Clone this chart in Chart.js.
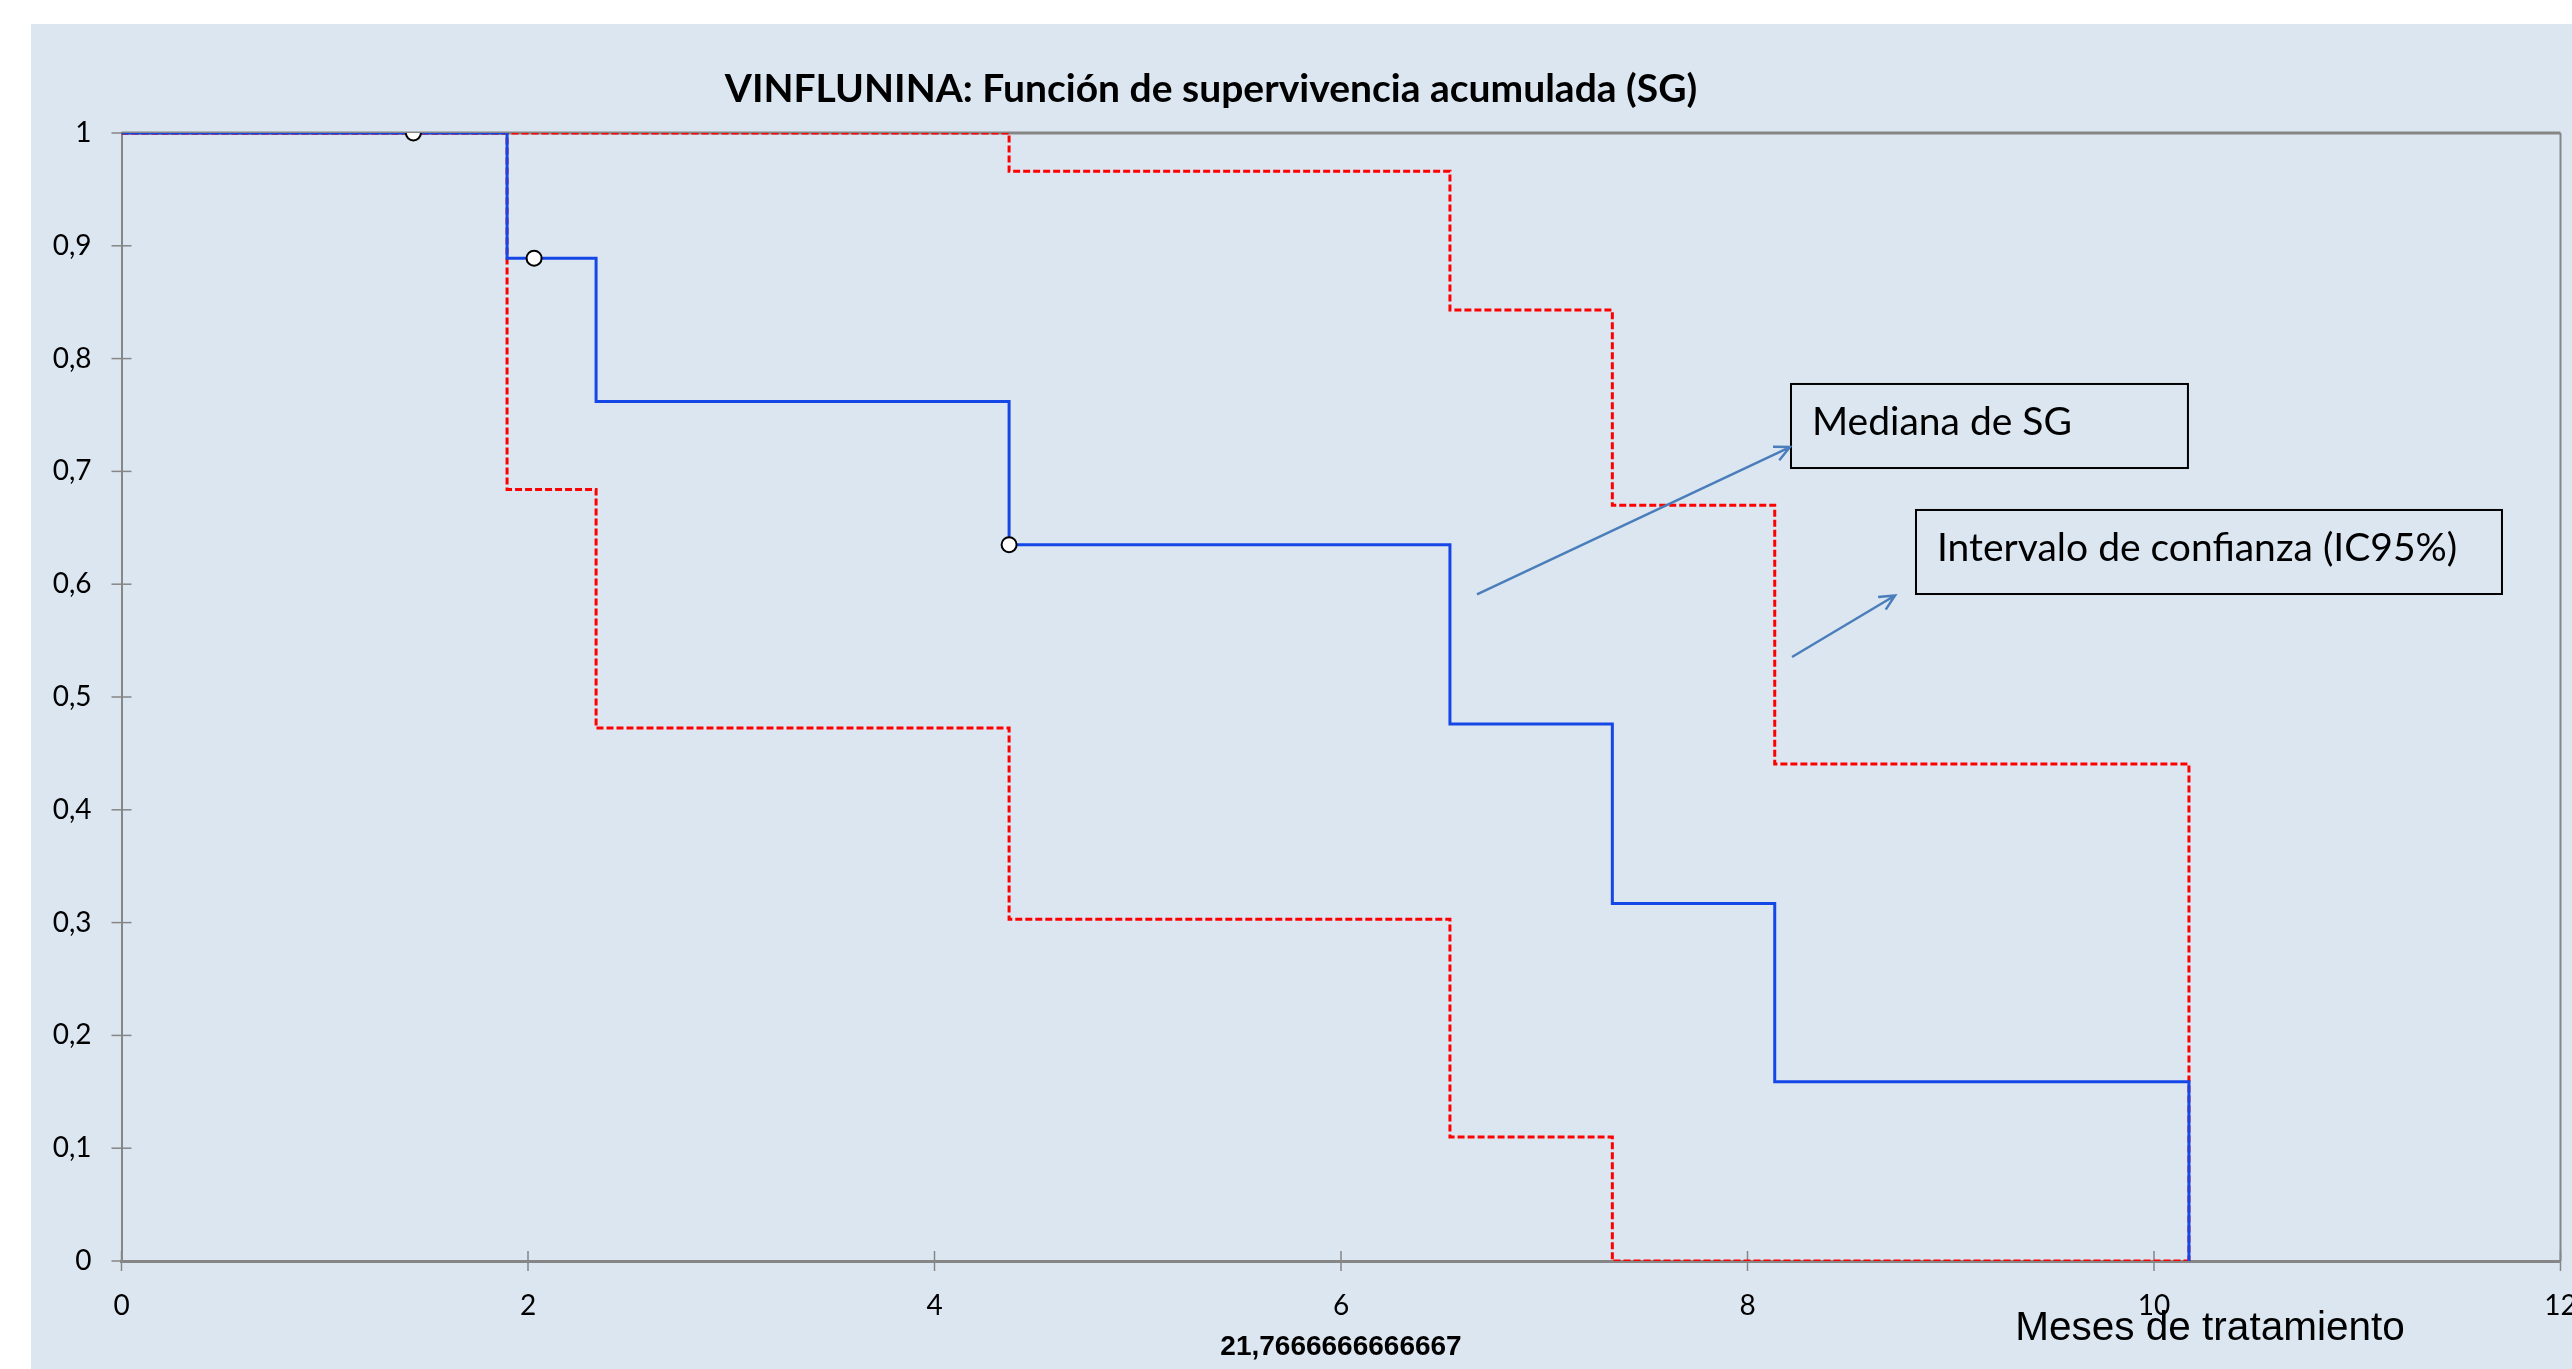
<!DOCTYPE html>
<html><head><meta charset="utf-8">
<script src="https://cdn.jsdelivr.net/npm/chart.js@4.4.0/dist/chart.umd.min.js"></script>
<style>
html,body{margin:0;padding:0;background:#fff;width:2572px;height:1369px;overflow:hidden}
#wrap{position:absolute;left:31px;top:24px;width:2541px;height:1345px;background:#DCE6F1}
canvas{display:block}
</style></head><body>
<div id="wrap"><canvas id="c" width="2541" height="1345"></canvas></div>
<script>
// ---- data (months, cumulative survival) ----
const kmTimes  = [0, 1.897, 2.335, 4.367, 6.536, 7.335, 8.134, 10.172];
const kmSurv   = [1, 0.889, 0.762, 0.635, 0.476, 0.317, 0.159, 0];
const upTimes  = [0, 4.367, 6.536, 7.335, 8.134, 10.172];
const upSurv   = [1, 0.966, 0.843, 0.670, 0.4405, 0];
const loTimes  = [0, 1.897, 2.335, 4.367, 6.536, 7.335, 10.172];
const loSurv   = [1, 0.684, 0.4725, 0.303, 0.110, 0, 0];
const censTimes = [1.436, 2.03, 4.367];
const censSurv  = [1, 0.889, 0.635];
const xTicks = [0, 2, 4, 6, 8, 10, 12];
const yTicks = [0, 0.1, 0.2, 0.3, 0.4, 0.5, 0.6, 0.7, 0.8, 0.9, 1];

const titleText = 'VINFLUNINA: Función de supervivencia acumulada (SG)';
const xAxisText = 'Meses de tratamiento';
const medianText = '21,7666666666667';
const note1 = 'Mediana de SG';
const note2 = 'Intervalo de confianza (IC95%)';

const pts = (xs, ys) => xs.map((v, i) => ({x: v, y: ys[i]}));

// annotation layout in data units
const boxes = [
  {text: note1, x0: 8.214, x1: 10.167, y0: 0.7775, y1: 0.703},
  {text: note2, x0: 8.829, x1: 11.712, y0: 0.6658, y1: 0.5913}
];
const arrows = [
  {fx: 6.669, fy: 0.591, tx: 8.209, ty: 0.7216},
  {fx: 8.219, fy: 0.5355, tx: 8.726, ty: 0.590}
];

const GRAY = '#868686';
const TICKFONT = 'Lato, "Open Sans", sans-serif';

const decor = {
  id: 'decor',
  beforeDatasetsDraw(chart) {
    const {ctx, chartArea: a, scales: {x, y}} = chart;
    ctx.save();
    ctx.strokeStyle = GRAY;
    ctx.lineWidth = 3;
    ctx.beginPath();
    ctx.moveTo(a.left, y.getPixelForValue(1)); ctx.lineTo(a.right, y.getPixelForValue(1));
    ctx.stroke();
    ctx.lineWidth = 2;
    ctx.beginPath();
    ctx.moveTo(x.getPixelForValue(12), a.top); ctx.lineTo(x.getPixelForValue(12), a.bottom);
    ctx.stroke();
    ctx.lineWidth = 1.5;
    const yb = y.getPixelForValue(0), xl = x.getPixelForValue(0);
    xTicks.forEach(v => {
      const px = x.getPixelForValue(v);
      ctx.beginPath(); ctx.moveTo(px, yb - 10); ctx.lineTo(px, yb + 10); ctx.stroke();
    });
    yTicks.forEach(v => {
      const py = y.getPixelForValue(v);
      ctx.beginPath(); ctx.moveTo(xl - 10, py); ctx.lineTo(xl + 10, py); ctx.stroke();
    });
    ctx.restore();
  },
  afterDraw(chart) {
    const {ctx, scales: {x, y}} = chart;
    ctx.save();
    // title
    ctx.fillStyle = '#000';
    ctx.font = 'bold 39px Lato, "Open Sans", sans-serif';
    ctx.textAlign = 'center'; ctx.textBaseline = 'middle';
    ctx.fillText(titleText, 1180, 65);
    // boxes
    ctx.textAlign = 'left'; ctx.textBaseline = 'alphabetic';
    ctx.font = '39px Lato, "Open Sans", sans-serif';
    ctx.strokeStyle = '#000'; ctx.lineWidth = 2;
    boxes.forEach(b => {
      const l = x.getPixelForValue(b.x0), r = x.getPixelForValue(b.x1);
      const t = y.getPixelForValue(b.y0), btm = y.getPixelForValue(b.y1);
      ctx.strokeRect(l, t, r - l, btm - t);
      ctx.fillText(b.text, l + 21, t + 51);
    });
    // arrows
    ctx.strokeStyle = '#4A7EBB'; ctx.lineWidth = 2.5;
    arrows.forEach(ar => {
      const fx = x.getPixelForValue(ar.fx), fy = y.getPixelForValue(ar.fy);
      const tx = x.getPixelForValue(ar.tx), ty = y.getPixelForValue(ar.ty);
      const ang = Math.atan2(ty - fy, tx - fx), L = 17, s = 0.45;
      ctx.beginPath(); ctx.moveTo(fx, fy); ctx.lineTo(tx, ty);
      ctx.moveTo(tx - L * Math.cos(ang - s), ty - L * Math.sin(ang - s)); ctx.lineTo(tx, ty);
      ctx.lineTo(tx - L * Math.cos(ang + s), ty - L * Math.sin(ang + s));
      ctx.stroke();
    });
    // axis title & median label
    ctx.fillStyle = '#000';
    ctx.textAlign = 'center'; ctx.textBaseline = 'alphabetic';
    ctx.font = '40.5px "Liberation Sans", Arial, sans-serif';
    ctx.fillText(xAxisText, 2179, 1316);
    ctx.font = 'bold 28px "Liberation Sans", Arial, sans-serif';
    ctx.fillText(medianText, 1310, 1331);
    ctx.restore();
  }
};

new Chart(document.getElementById('c'), {
  type: 'line',
  data: {
    datasets: [
      {data: pts(censTimes, censSurv), showLine: false, pointRadius: 7.5,
       pointBackgroundColor: '#fff', pointBorderColor: '#000', pointBorderWidth: 2},
      {data: pts(kmTimes, kmSurv), stepped: 'before', borderColor: '#1447E6', borderWidth: 3,
       pointRadius: 0, fill: false},
      {data: pts(upTimes, upSurv), stepped: 'before', borderColor: '#FF0000', borderWidth: 3,
       borderDash: [7, 3], pointRadius: 0, fill: false},
      {data: pts(loTimes, loSurv), stepped: 'before', borderColor: '#FF0000', borderWidth: 3,
       borderDash: [7, 3], pointRadius: 0, fill: false}
    ]
  },
  options: {
    responsive: false, animation: false, devicePixelRatio: 1, events: [],
    layout: {padding: {top: 109, right: 11.5, left: 0, bottom: 0}},
    plugins: {legend: {display: false}, tooltip: {enabled: false}, title: {display: false}},
    scales: {
      x: {
        type: 'linear', min: 0, max: 12,
        afterBuildTicks: s => { s.ticks = xTicks.map(v => ({value: v})); },
        afterFit: s => { s.height = 108; s.paddingLeft = 0; s.paddingRight = 0; },
        grid: {display: false, drawTicks: false},
        border: {display: true, color: GRAY, width: 3},
        ticks: {color: '#000', padding: 28, maxRotation: 0, autoSkip: false,
                font: {family: TICKFONT, size: 28}}
      },
      y: {
        type: 'linear', min: 0, max: 1,
        afterBuildTicks: s => { s.ticks = yTicks.map(v => ({value: v})); },
        afterFit: s => { s.width = 90.5; s.paddingTop = 0; s.paddingBottom = 0; },
        grid: {display: false, drawTicks: false},
        border: {display: true, color: GRAY, width: 2},
        ticks: {color: '#000', padding: 30, autoSkip: false,
                callback: v => String(Math.round(v * 10) / 10).replace('.', ','),
                font: {family: TICKFONT, size: 28}}
      }
    }
  },
  plugins: [decor]
});
</script>
</body></html>
